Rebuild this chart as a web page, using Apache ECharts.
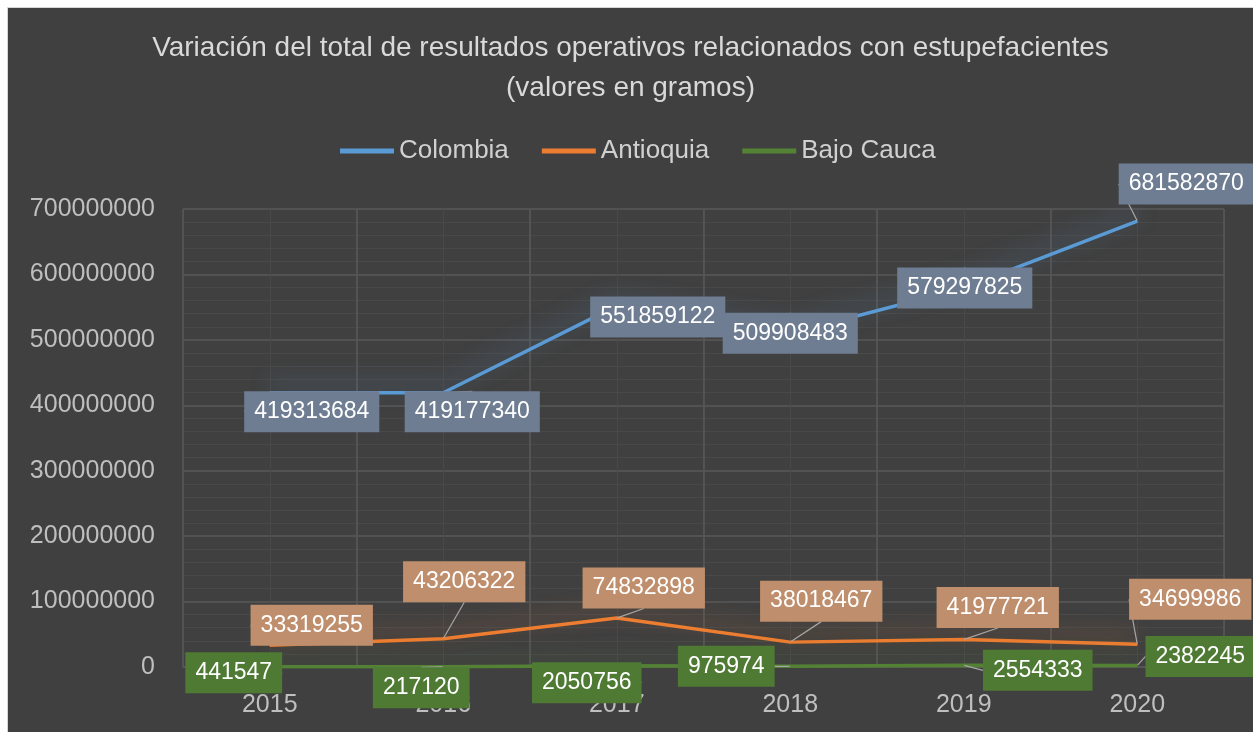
<!DOCTYPE html>
<html>
<head>
<meta charset="utf-8">
<script src="https://cdn.jsdelivr.net/npm/echarts@6/dist/echarts.min.js"></script>
<style>
html,body{margin:0;padding:0;background:#ffffff;width:1256px;height:732px;overflow:hidden;}
#frame{position:absolute;left:7px;top:7px;width:1246px;height:725px;background:#d6d6d6;}
#chart{position:absolute;left:8px;top:8px;width:1245px;height:724px;background:#404040;}
</style>
</head>
<body>
<div id="frame"></div>
<div id="chart"></div>
<script>
const categories = ['2015', '2016', '2017', '2018', '2019', '2020'];
const colombia = [419313684, 419177340, 551859122, 509908483, 579297825, 681582870];
const antioquia = [33319255, 43206322, 74832898, 38018467, 41977721, 34699986];
const bajoCauca = [441547, 217120, 2050756, 975974, 2554333, 2382245];
const seriesNames = ['Colombia', 'Antioquia', 'Bajo Cauca'];

// label placement (style only): offset of label centre from its point, in px
const offColombia = [[42,19],[29,19],[41,11],[0,0],[1,0],[49,-37]];
const offAntioquia = [[42,-20],[21,-57],[27,-30],[31,-41],[34,-32],[53,-45]];
const offBajo = [[-36,6],[-22,21],[-30,17],[-64,0],[74,5],[63,-9]];

const FONT = '"Liberation Sans", Arial, sans-serif';
const chart = echarts.init(document.getElementById('chart'), null, {renderer: 'canvas'});

function makeSeries(name, data, color, glow, boxColor, offs) {
  return {
    name: name,
    type: 'line',
    data: data,
    xAxisIndex: 0,
    symbol: 'circle',
    symbolSize: 1,
    showSymbol: true,
    itemStyle: {color: color},
    lineStyle: {width: 3.5, color: color, shadowColor: glow, shadowBlur: 20, shadowOffsetY: -8},
    label: {
      show: true,
      position: 'inside',
      color: '#ffffff',
      fontFamily: FONT,
      fontSize: 23,
      lineHeight: 24,
      backgroundColor: boxColor,
      padding: [9, 10, 8, 10]
    },
    labelLine: {show: true, lineStyle: {color: '#a6a6a6', width: 1.2}},
    labelLayout: function (p) {
      const o = offs[p.dataIndex];
      return {dx: o[0], dy: o[1]};
    },
    emphasis: {disabled: true},
    z: 3
  };
}

chart.setOption({
  backgroundColor: '#404040',
  animation: false,
  title: {
    text: 'Variación del total de resultados operativos relacionados con estupefacientes\n(valores en gramos)',
    left: 'center',
    top: 20,
    padding: 0,
    textStyle: {color: '#d9d9d9', fontFamily: FONT, fontSize: 28, lineHeight: 40, fontWeight: 'normal', align: 'center'}
  },
  legend: {
    data: seriesNames,
    left: 332,
    top: 130,
    padding: 0,
    itemWidth: 54,
    itemHeight: 5,
    itemGap: 33,
    icon: 'rect',
    textStyle: {color: '#d0d0d0', fontFamily: FONT, fontSize: 26}
  },
  grid: {left: 175, right: 29, top: 201, bottom: 65, containLabel: false},
  xAxis: [{
    type: 'category',
    data: categories,
    boundaryGap: true,
    z: 2,
    axisLine: {show: true, lineStyle: {color: '#595959', width: 1.5}},
    axisTick: {show: false},
    axisLabel: {color: '#bfbfbf', fontFamily: FONT, fontSize: 25, margin: 26},
    splitLine: {show: true, lineStyle: {color: '#595959', width: 1.5}}
  }, {
    type: 'value',
    min: 0,
    max: 12,
    interval: 1,
    position: 'bottom',
    z: 0,
    axisLine: {show: false},
    axisTick: {show: false},
    axisLabel: {show: false},
    splitLine: {show: true, lineStyle: {color: '#494949', width: 1}}
  }],
  yAxis: {
    type: 'value',
    min: 0,
    max: 700000000,
    interval: 100000000,
    axisLine: {show: false},
    axisTick: {show: false},
    axisLabel: {color: '#bfbfbf', fontFamily: FONT, fontSize: 25, margin: 28, formatter: function (v) { return String(v); }},
    splitLine: {show: true, lineStyle: {color: '#595959', width: 1.5}},
    minorTick: {show: false, splitNumber: 5},
    minorSplitLine: {show: true, lineStyle: {color: '#494949', width: 1}}
  },
  series: [
    makeSeries('Colombia', colombia, '#5b9bd5', 'rgba(91,155,213,0.55)', '#6e7d92', offColombia),
    makeSeries('Antioquia', antioquia, '#ed7d31', 'rgba(237,125,49,0.45)', '#bf8f6d', offAntioquia),
    makeSeries('Bajo Cauca', bajoCauca, '#548235', 'rgba(84,130,53,0.4)', '#4f7a33', offBajo)
  ]
});
</script>
</body>
</html>
